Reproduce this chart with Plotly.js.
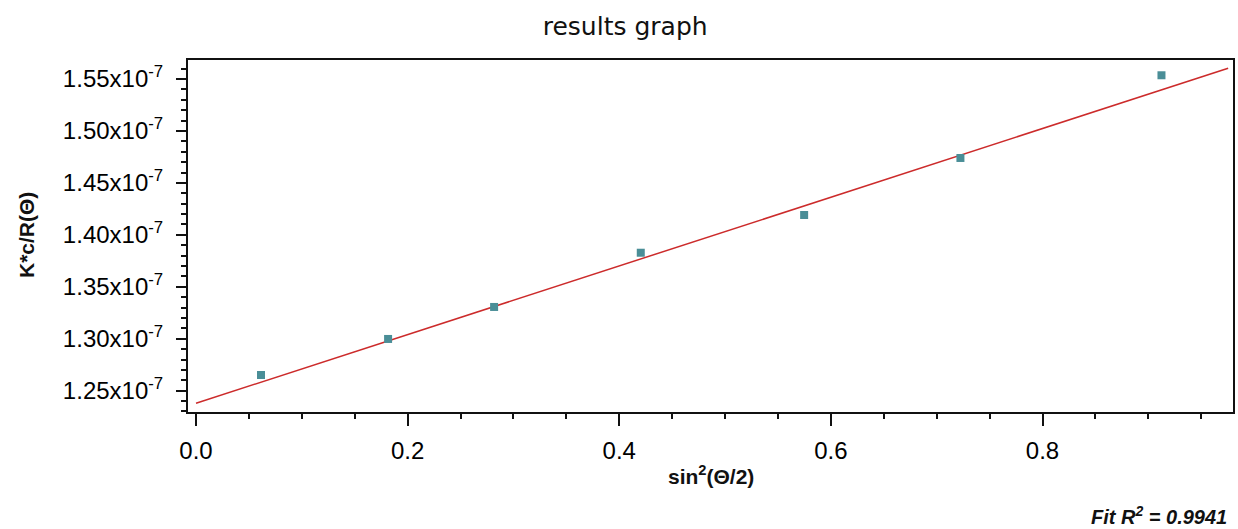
<!DOCTYPE html>
<html>
<head>
<meta charset="utf-8">
<script src="https://cdn.plot.ly/plotly-3.0.1.min.js"></script>
<style>html,body{margin:0;padding:0;background:#fff;}#chart{width:1238px;height:529px;}</style>
</head>
<body>
<div id="chart"></div>
<script>
// measured data points: sin^2(theta/2) vs K*c/R(theta)
const xData = [0.0614, 0.1815, 0.2817, 0.4203, 0.5747, 0.7224, 0.9124];
const yData = [1.2651e-7, 1.2998e-7, 1.3306e-7, 1.3828e-7, 1.4191e-7, 1.4740e-7, 1.5536e-7];
// fitted line endpoints
const fitX = [0.0, 0.9754];
const fitY = [1.2379e-7, 1.5603e-7];
// tick labels
const yTickVals = [1.25e-7, 1.30e-7, 1.35e-7, 1.40e-7, 1.45e-7, 1.50e-7, 1.55e-7];
const yTickText = ['1.25x10<sup>-7</sup>', '1.30x10<sup>-7</sup>', '1.35x10<sup>-7</sup>', '1.40x10<sup>-7</sup>', '1.45x10<sup>-7</sup>', '1.50x10<sup>-7</sup>', '1.55x10<sup>-7</sup>'];
const xTickVals = [0.0, 0.2, 0.4, 0.6, 0.8];
const xTickText = ['0.0', '0.2', '0.4', '0.6', '0.8'];

const traces = [
  {x: fitX, y: fitY, mode: 'lines', type: 'scatter',
   line: {color: '#cc2b2b', width: 1.5}, hoverinfo: 'skip'},
  {x: xData, y: yData, mode: 'markers', type: 'scatter',
   marker: {symbol: 'square', size: 8, color: '#4a8e97'}}
];

const tickFont = {family: 'Liberation Sans, Arial, sans-serif', size: 24, color: '#000'};
const layout = {
  width: 1238, height: 529,
  margin: {l: 188, r: 5, t: 60, b: 117},
  paper_bgcolor: '#fff', plot_bgcolor: '#fff',
  showlegend: false,
  title: {text: 'results graph', x: 0.505, xanchor: 'center', y: 0.95, yanchor: 'middle',
          font: {family: 'DejaVu Sans, sans-serif', size: 25, color: '#111'}},
  xaxis: {
    range: [-0.0076, 0.98], showgrid: false, zeroline: false,
    showline: true, linecolor: '#111', linewidth: 2, mirror: true,
    ticks: 'outside', ticklen: 12, tickwidth: 2, tickcolor: '#111',
    tickmode: 'array', tickvals: xTickVals, ticktext: xTickText,
    tickfont: tickFont, ticklabelstandoff: 4,
    minor: {tickmode: 'linear', tick0: 0, dtick: 0.05, ticks: 'outside', ticklen: 5, tickwidth: 2, tickcolor: '#111', showgrid: false}
  },
  yaxis: {
    range: [1.2295e-7, 1.5683e-7], showgrid: false, zeroline: false,
    showline: true, linecolor: '#111', linewidth: 2, mirror: true,
    ticks: 'outside', ticklen: 10, tickwidth: 2, tickcolor: '#111',
    tickmode: 'array', tickvals: yTickVals, ticktext: yTickText,
    tickfont: tickFont, ticklabelstandoff: 8,
    minor: {tickmode: 'linear', tick0: 1.2e-7, dtick: 0.01e-7, ticks: 'outside', ticklen: 5, tickwidth: 2, tickcolor: '#111', showgrid: false}
  },
  annotations: [
    {text: '<b>sin<sup>2</sup>(Θ/2)</b>', xref: 'paper', yref: 'paper', x: 0.5, y: (412-475)/352,
     xanchor: 'center', yanchor: 'middle', showarrow: false,
     font: {family: 'Liberation Sans, Arial, sans-serif', size: 21, color: '#111'}},
    {text: '<b>K*c/R(Θ)</b>', xref: 'paper', yref: 'paper', x: (26-188)/(1233-188), y: (412-235)/352,
     xanchor: 'center', yanchor: 'middle', showarrow: false, textangle: -90,
     font: {family: 'Liberation Sans, Arial, sans-serif', size: 21, color: '#111'}},
    {text: '<b><i>Fit R<sup>2</sup> = 0.9941</i></b>', xref: 'paper', yref: 'paper', x: (1229-188)/(1233-188), y: (412-515)/352,
     xanchor: 'right', yanchor: 'middle', showarrow: false,
     font: {family: 'Liberation Sans, Arial, sans-serif', size: 20, color: '#111'}}
  ]
};

Plotly.newPlot('chart', traces, layout, {displayModeBar: false, staticPlot: true});
</script>
</body>
</html>
